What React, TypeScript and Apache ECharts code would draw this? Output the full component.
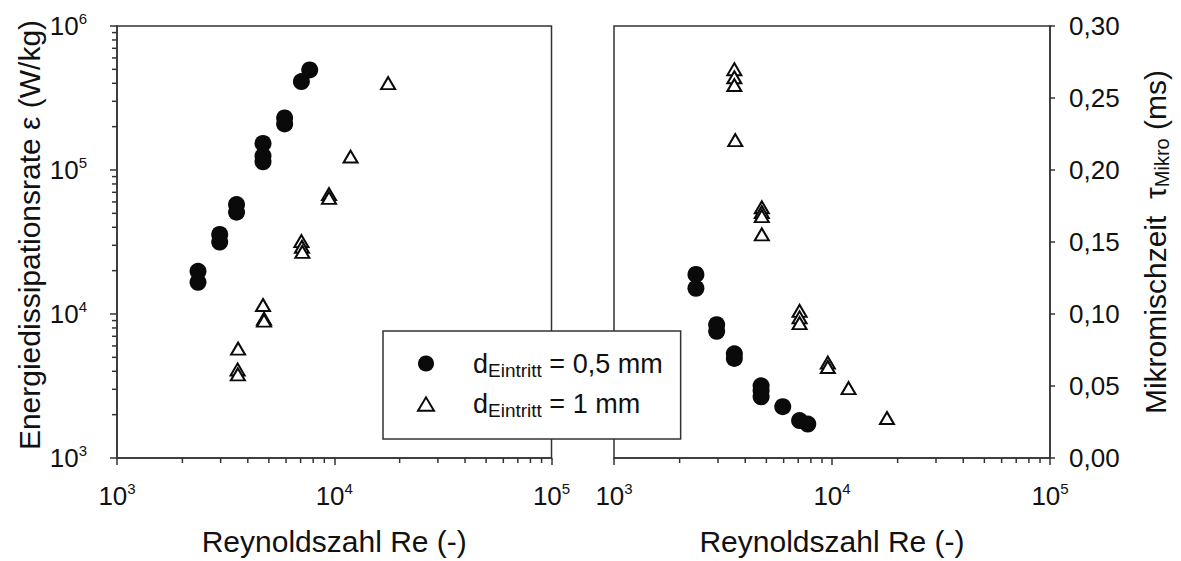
import React, { useEffect, useRef } from "react";
import * as echarts from "echarts";

// Energy dissipation rate ε (W/kg) over Reynolds number, inlet diameter 0,5 mm
const reEpsSmall = [2360, 2360, 2970, 2970, 3550, 3550, 4700, 4700, 4700, 5910, 5910, 7060, 7710];
const epsSmall = [19800, 16600, 35700, 31600, 57500, 50900, 153000, 125000, 114000, 230000, 209000, 411000, 495000];

// Energy dissipation rate ε (W/kg) over Reynolds number, inlet diameter 1 mm
const reEpsLarge = [3610, 3590, 3600, 4700, 4750, 4750, 7060, 7100, 7130, 9460, 9460, 11890, 17700];
const epsLarge = [5750, 4120, 3810, 11550, 9270, 9000, 32100, 29300, 27000, 68000, 64000, 124000, 401000];

// Micromixing time τ (ms) over Reynolds number, inlet diameter 0,5 mm
const reTauSmall = [2376, 2376, 2958, 2958, 3565, 3565, 4730, 4730, 4730, 5944, 7100, 7745];
const tauSmall = [0.1275, 0.1178, 0.0926, 0.088, 0.0724, 0.0691, 0.0501, 0.0467, 0.0425, 0.0356, 0.026, 0.0236];

// Micromixing time τ (ms) over Reynolds number, inlet diameter 1 mm
const reTauLarge = [3565, 3565, 3565, 3600, 4765, 4765, 4765, 4765, 7100, 7100, 7100, 9570, 9570, 11910, 17870];
const tauLarge = [0.27, 0.2644, 0.259, 0.2207, 0.1741, 0.1707, 0.168, 0.1553, 0.1022, 0.0977, 0.0937, 0.0662, 0.0632, 0.0485, 0.0278];

// Axis ranges and minor tick values (2…9 per decade)
const reRange = [1e3, 1e5];
const epsRange = [1e3, 1e6];
const reMinorTicks = [2e3, 3e3, 4e3, 5e3, 6e3, 7e3, 8e3, 9e3, 2e4, 3e4, 4e4, 5e4, 6e4, 7e4, 8e4, 9e4];
const epsMinorTicks = [
  2e3, 3e3, 4e3, 5e3, 6e3, 7e3, 8e3, 9e3,
  2e4, 3e4, 4e4, 5e4, 6e4, 7e4, 8e4, 9e4,
  2e5, 3e5, 4e5, 5e5, 6e5, 7e5, 8e5, 9e5,
];
const tauRange = [0, 0.3];
const tauStep = 0.05;

const seriesNames = ["0,5 mm", "1 mm"];
const xTitle = "Reynoldszahl Re (-)";
const epsTitle = "Energiedissipationsrate ε (W/kg)";

const FONT = "'Liberation Sans', Arial, Helvetica, sans-serif";
const INK = "#111";
const FRAME = "#333";
const MARK = "#0a0a0a";
const MINOR_LEN = 5;

const pairs = (xs: number[], ys: number[]) => xs.map((x, i) => [x, ys[i]]);

const powerRich = {
  b: { fontSize: 26, lineHeight: 30, fontFamily: FONT, color: INK },
  s: { fontSize: 15, lineHeight: 22, verticalAlign: "top", fontFamily: FONT, color: INK },
};
const powerLabel = (v: number) => `{b|10}{s|${Math.round(Math.log10(v))}}`;

const frameLine = { color: FRAME, width: 1.5 };

function majorRe(gridIndex: number) {
  return {
    type: "log",
    logBase: 10,
    gridIndex,
    min: reRange[0],
    max: reRange[1],
    position: "bottom",
    name: xTitle,
    nameLocation: "middle",
    nameGap: 68,
    nameTextStyle: { fontSize: 30, fontFamily: FONT, color: INK },
    axisLine: { show: true, onZero: false, lineStyle: frameLine },
    axisTick: { show: true, inside: false, length: 7, lineStyle: frameLine },
    axisLabel: { formatter: powerLabel, rich: powerRich, margin: 23 },
    splitLine: { show: false },
    minorTick: { show: false },
  };
}

// Short outside ticks at 2…9 × 10^n, placed through the axis scales
function minorTickSeries(
  xAxisIndex: number,
  yAxisIndex: number,
  values: number[],
  along: "x" | "y",
  anchor: number,
) {
  return {
    type: "custom",
    coordinateSystem: "cartesian2d",
    name: `minor-${along}-${xAxisIndex}`,
    xAxisIndex,
    yAxisIndex,
    silent: true,
    clip: false,
    z: 10,
    data: values.map((v) => (along === "x" ? [v, anchor] : [anchor, v])),
    renderItem: (_params: any, api: any) => {
      const p = api.coord([api.value(0), api.value(1)]);
      const shape =
        along === "x"
          ? { x1: p[0], y1: p[1], x2: p[0], y2: p[1] + MINOR_LEN }
          : { x1: p[0] - MINOR_LEN, y1: p[1], x2: p[0], y2: p[1] };
      return { type: "line", shape, style: { stroke: FRAME, lineWidth: 1.5 } };
    },
  };
}

export default function App() {
  const ref = useRef<HTMLDivElement>(null);

  useEffect(() => {
    if (!ref.current) return;
    const chart = echarts.init(ref.current, undefined, { renderer: "svg" });

    const markerCircle = { symbol: "circle", symbolSize: 17, itemStyle: { color: MARK, opacity: 1 } };
    const markerTriangle = {
      symbol: "triangle",
      symbolSize: [14, 12],
      itemStyle: { color: "#fff", borderColor: MARK, borderWidth: 2, opacity: 1 },
    };

    chart.setOption({
      animation: false,
      backgroundColor: "#fff",
      textStyle: { fontFamily: FONT, color: INK },
      grid: [
        { left: 117, top: 26, width: 434.5, height: 435, show: true, borderColor: FRAME, borderWidth: 1.5, backgroundColor: "transparent" },
        { left: 614, top: 26, width: 436, height: 435, show: true, borderColor: FRAME, borderWidth: 1.5, backgroundColor: "transparent" },
      ],
      xAxis: [majorRe(0), majorRe(1)],
      yAxis: [
        {
          type: "log",
          logBase: 10,
          gridIndex: 0,
          min: epsRange[0],
          max: epsRange[1],
          position: "left",
          name: epsTitle,
          nameLocation: "middle",
          nameRotate: 90,
          nameGap: 73,
          nameTextStyle: { fontSize: 30, fontFamily: FONT, color: INK, padding: [0, 0, 0, 14] },
          axisLine: { show: true, onZero: false, lineStyle: frameLine },
          axisTick: { show: true, inside: false, length: 7, lineStyle: frameLine },
          axisLabel: { formatter: powerLabel, rich: powerRich, margin: 30 },
          splitLine: { show: false },
        },
        {
          type: "value",
          gridIndex: 1,
          min: tauRange[0],
          max: tauRange[1],
          interval: tauStep,
          position: "right",
          name: "{n|Mikromischzeit  τ}{sub|Mikro}{n| (ms)}",
          nameLocation: "middle",
          nameRotate: 90,
          nameGap: 88,
          nameTextStyle: {
            rich: {
              n: { fontSize: 30, lineHeight: 34, fontFamily: FONT, color: INK },
              sub: { fontSize: 20, lineHeight: 10, verticalAlign: "bottom", fontFamily: FONT, color: INK },
            },
          },
          axisLine: { show: true, onZero: false, lineStyle: frameLine },
          axisTick: { show: true, inside: false, length: 5, lineStyle: frameLine },
          axisLabel: {
            fontSize: 26,
            fontFamily: FONT,
            color: INK,
            margin: 19,
            formatter: (v: number) => v.toFixed(2).replace(".", ","),
          },
          splitLine: { show: false },
        },
      ],
      legend: {
        orient: "vertical",
        left: 383,
        top: 331,
        padding: [19, 18, 19, 34],
        itemGap: 11,
        itemWidth: 16,
        itemHeight: 16,
        backgroundColor: "#fff",
        borderColor: FRAME,
        borderWidth: 1.5,
        borderRadius: 0,
        selectedMode: false,
        data: [
          { name: seriesNames[0], icon: "circle" },
          { name: seriesNames[1], icon: "path://M0,10L6,0L12,10Z" },
        ],
        formatter: (n: string) => `{d0|d}{sub|Eintritt}{t| = ${n}}`,
        textStyle: {
          rich: {
            d0: { fontSize: 27, lineHeight: 32, padding: [0, 0, 0, 34], fontFamily: FONT, color: INK },
            sub: { fontSize: 19, lineHeight: 8, verticalAlign: "bottom", fontFamily: FONT, color: INK },
            t: { fontSize: 27, lineHeight: 32, fontFamily: FONT, color: INK },
          },
        },
      },
      series: [
        minorTickSeries(0, 0, reMinorTicks, "x", epsRange[0]),
        minorTickSeries(0, 0, epsMinorTicks, "y", reRange[0]),
        minorTickSeries(1, 1, reMinorTicks, "x", tauRange[0]),
        { type: "scatter", name: seriesNames[0], xAxisIndex: 0, yAxisIndex: 0, data: pairs(reEpsSmall, epsSmall), silent: true, ...markerCircle },
        { type: "scatter", name: seriesNames[1], xAxisIndex: 0, yAxisIndex: 0, data: pairs(reEpsLarge, epsLarge), silent: true, ...markerTriangle },
        { type: "scatter", name: seriesNames[0], xAxisIndex: 1, yAxisIndex: 1, data: pairs(reTauSmall, tauSmall), silent: true, ...markerCircle },
        { type: "scatter", name: seriesNames[1], xAxisIndex: 1, yAxisIndex: 1, data: pairs(reTauLarge, tauLarge), silent: true, ...markerTriangle },
      ],
    });

    return () => chart.dispose();
  }, []);

  return (
    <div
      ref={ref}
      style={{ position: "absolute", left: 0, top: 0, width: 1181, height: 561, background: "#fff" }}
    />
  );
}
